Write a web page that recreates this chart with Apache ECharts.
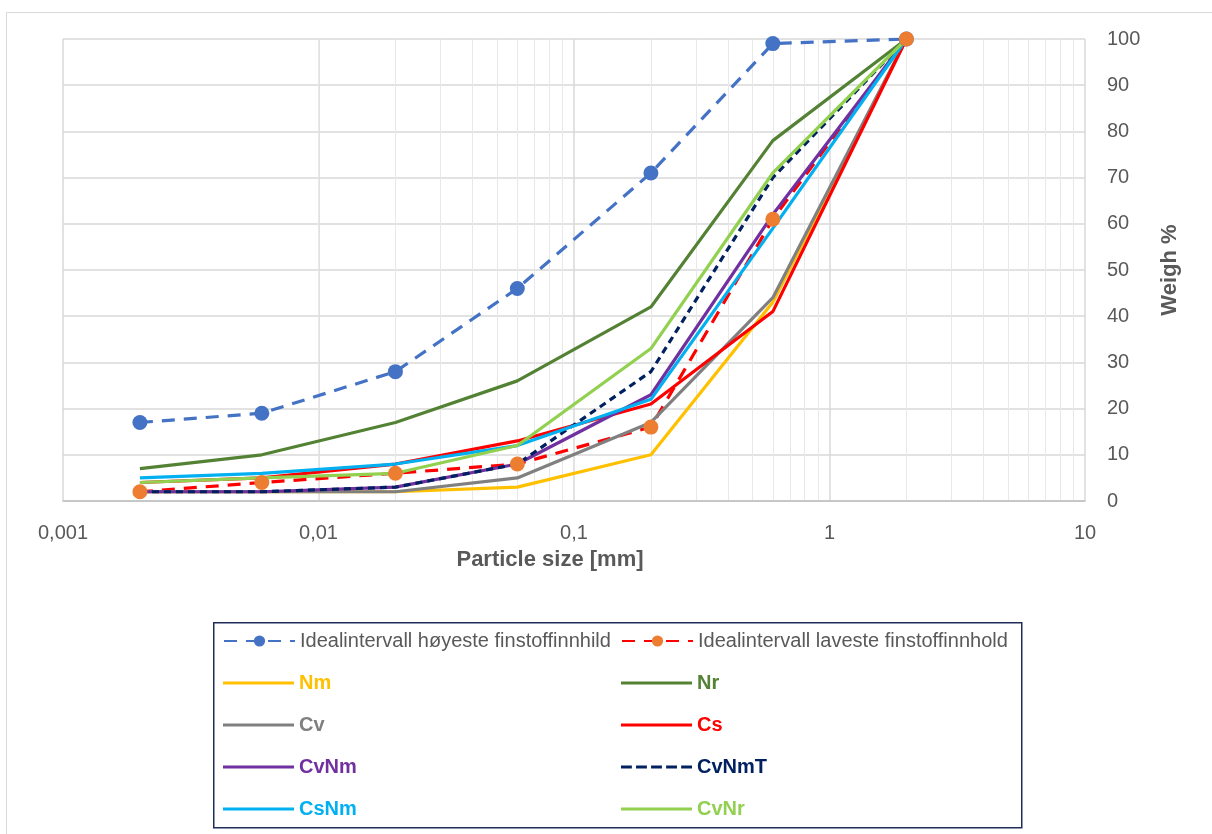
<!DOCTYPE html>
<html>
<head>
<meta charset="utf-8">
<script src="https://cdn.jsdelivr.net/npm/echarts@6/dist/echarts.min.js"></script>
<style>
html,body{margin:0;padding:0;background:#fff;}
#chart{width:1212px;height:834px;}
</style>
</head>
<body>
<div id="chart"></div>
<script>
const particleSizes = [0.002, 0.006, 0.02, 0.06, 0.2, 0.6, 2];
const xTickLabels = ['0,001', '0,01', '0,1', '1', '10'];
const idealHigh = [17, 19, 28, 46, 71, 99, 100];
const idealLow = [2, 4, 6, 8, 16, 61, 100];
const Nm = [2, 2, 2, 3, 10, 43, 100];
const Nr = [7, 10, 17, 26, 42, 78, 100];
const Cv = [2, 2, 2, 5, 17, 44, 100];
const Cs = [4, 5, 8, 13, 21, 41, 100];
const CvNm = [2, 2, 3, 8, 23, 62, 100];
const CvNmT = [2, 2, 3, 8, 28, 70, 100];
const CsNm = [5, 6, 8, 12, 22, 59, 100];
const CvNr = [4, 5, 6, 12, 33, 71, 100];

const FONT = 'Liberation Sans';
const pair = arr => particleSizes.map((x, i) => [x, arr[i]]);

// minor gridlines (2..9 within each decade)
const minorLines = [];
for (let e = -3; e <= 0; e++) {
  for (let m = 2; m <= 9; m++) minorLines.push({ xAxis: m * Math.pow(10, e) });
}

const DASH_ICON = 'path://M0,0H11V3H0Z M15.25,0H26.25V3H15.25Z M30.5,0H41.5V3H30.5Z M45.75,0H56.75V3H45.75Z M61,0H72V3H61Z';

const defs = [
  { name: 'Idealintervall høyeste finstoffinnhild', data: idealHigh, color: '#4472C4', dash: [13, 9], symbol: true, symColor: '#4472C4', textColor: '#595959', bold: false },
  { name: 'Idealintervall laveste finstoffinnhold', data: idealLow, color: '#FF0000', dash: [13, 9], symbol: true, symColor: '#ED7D31', textColor: '#595959', bold: false },
  { name: 'Nm', data: Nm, color: '#FFC000', textColor: '#FFC000', bold: true },
  { name: 'Nr', data: Nr, color: '#548235', textColor: '#548235', bold: true },
  { name: 'Cv', data: Cv, color: '#808080', textColor: '#7F7F7F', bold: true },
  { name: 'Cs', data: Cs, color: '#FF0000', textColor: '#FF0000', bold: true },
  { name: 'CvNm', data: CvNm, color: '#7030A0', textColor: '#7030A0', bold: true },
  { name: 'CvNmT', data: CvNmT, color: '#002060', dash: [7, 5], textColor: '#002060', bold: true, icon: DASH_ICON },
  { name: 'CsNm', data: CsNm, color: '#00B0F0', textColor: '#00B0F0', bold: true },
  { name: 'CvNr', data: CvNr, color: '#92D050', textColor: '#92D050', bold: true }
];

const series = [{
  type: 'line', data: [], silent: true, z: 0,
  markLine: {
    silent: true, symbol: ['none', 'none'], label: { show: false }, z: 0,
    lineStyle: { color: '#E8E8E8', width: 1, type: 'solid' },
    data: minorLines, animation: false
  }
}];
defs.forEach(d => {
  series.push({
    name: d.name,
    type: 'line',
    data: pair(d.data),
    showSymbol: !!d.symbol,
    symbol: d.symbol ? 'circle' : 'none',
    symbolSize: 15,
    itemStyle: { color: d.symColor || d.color },
    lineStyle: { color: d.color, width: 3.2, type: d.dash || 'solid', cap: 'butt' },
    z: 3,
    animation: false
  });
});

const legendRowsY = [631, 673, 715, 757, 799];
const legendColsX = [223, 621];
const legends = defs.map((d, i) => {
  const item = { name: d.name, textStyle: { color: d.textColor, fontWeight: d.bold ? 'bold' : 'normal' } };
  const lg = {
    left: legendColsX[i % 2],
    top: legendRowsY[Math.floor(i / 2)],
    itemWidth: 71,
    itemGap: 5,
    padding: 0,
    selectedMode: false,
    textStyle: { fontFamily: FONT, fontSize: 20, color: d.textColor }
  };
  if (d.symbol) {
    lg.itemHeight = 14;
    item.itemStyle = { color: d.symColor };
  } else {
    item.icon = d.icon || 'rect';
    lg.itemHeight = 3;
    lg.itemStyle = { color: d.color };
  }
  lg.data = [item];
  return lg;
});

const chart = echarts.init(document.getElementById('chart'), null, { renderer: 'canvas' });
chart.setOption({
  backgroundColor: '#ffffff',
  animation: false,
  textStyle: { fontFamily: FONT },
  grid: { left: 63, right: 127, top: 39, bottom: 333, containLabel: false },
  graphic: [
    { type: 'rect', left: 4, top: 10, z: -10, shape: { width: 1206, height: 822 }, style: { fill: 'none', stroke: '#D9D9D9', lineWidth: 1 } },
    { type: 'rect', left: 213, top: 622, z: -5, shape: { width: 808, height: 205 }, style: { fill: '#fff', stroke: '#1F2D5A', lineWidth: 1.5 } }
  ],
  legend: legends,
  xAxis: {
    type: 'log', logBase: 10, min: 0.001, max: 10,
    name: 'Particle size [mm]', nameLocation: 'middle', nameGap: 48,
    nameTextStyle: { fontFamily: FONT, fontSize: 22, fontWeight: 'bold', color: '#595959', padding: [0, 48, 0, 0] },
    axisLine: { show: true, lineStyle: { color: '#BFBFBF', width: 1.5 } },
    axisTick: { show: false },
    axisLabel: {
      fontFamily: FONT, fontSize: 20, color: '#595959', margin: 22,
      formatter: v => xTickLabels[Math.round(Math.log10(v)) + 3]
    },
    splitLine: { show: true, lineStyle: { color: '#D9D9D9', width: 1.5 } }
  },
  yAxis: {
    type: 'value', position: 'right', min: 0, max: 100, interval: 10,
    name: 'Weigh %', nameLocation: 'middle', nameGap: 74, nameRotate: 90,
    nameTextStyle: { fontFamily: FONT, fontSize: 22, fontWeight: 'bold', color: '#595959' },
    axisLine: { show: false }, axisTick: { show: false },
    axisLabel: { fontFamily: FONT, fontSize: 20, color: '#595959', margin: 22, align: 'left' },
    splitLine: { show: true, lineStyle: { color: '#D9D9D9', width: 1.5 } }
  },
  series: series
});
</script>
</body>
</html>
